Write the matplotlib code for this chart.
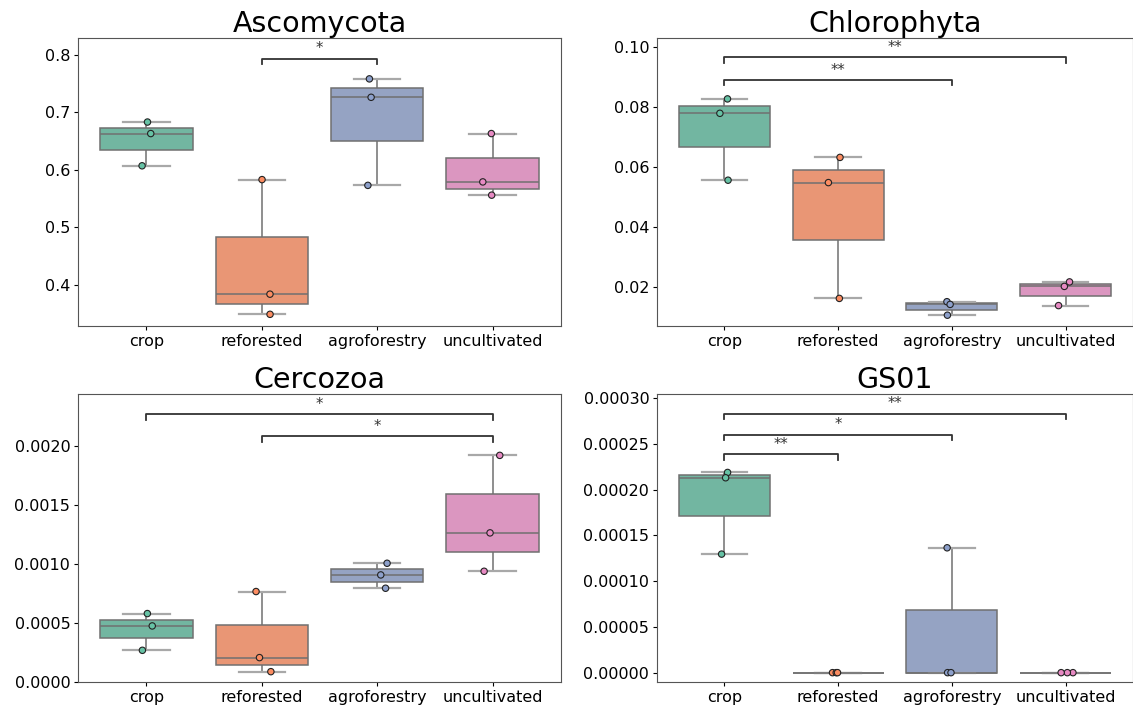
import matplotlib
matplotlib.use("Agg")
import matplotlib.pyplot as plt
import numpy as np
import pandas as pd
import seaborn as sns
from matplotlib.ticker import FormatStrFormatter

## Data (3 samples per land use)
groups = ["crop", "reforested", "agroforestry", "uncultivated"]

ascomycota = {
    "crop": [0.683, 0.663, 0.607],
    "reforested": [0.583, 0.384, 0.349],
    "agroforestry": [0.758, 0.726, 0.573],
    "uncultivated": [0.663, 0.579, 0.556],
}
chlorophyta = {
    "crop": [0.0827, 0.0779, 0.0556],
    "reforested": [0.0632, 0.0548, 0.0162],
    "agroforestry": [0.0151, 0.0142, 0.0106],
    "uncultivated": [0.0217, 0.0202, 0.0138],
}
cercozoa = {
    "crop": [0.000581, 0.000476, 0.000269],
    "reforested": [0.000768, 0.000207, 0.0000878],
    "agroforestry": [0.001008, 0.000909, 0.000796],
    "uncultivated": [0.001924, 0.001266, 0.000940],
}
gs01 = {
    "crop": [0.0002187, 0.0002129, 0.0001295],
    "reforested": [0.0, 0.0, 0.0],
    "agroforestry": [0.0001364, 0.0, 0.0],
    "uncultivated": [0.0, 0.0, 0.0],
}

# significance brackets: (group a, group b, height, label)
asc_sig = [("reforested", "agroforestry", 0.7925, "*")]
chl_sig = [("crop", "agroforestry", 0.0889, "**"),
           ("crop", "uncultivated", 0.0965, "**")]
cer_sig = [("reforested", "uncultivated", 0.002085, "*"),
           ("crop", "uncultivated", 0.002272, "*")]
gs_sig = [("crop", "reforested", 0.0002385, "**"),
          ("crop", "agroforestry", 0.0002597, "*"),
          ("crop", "uncultivated", 0.000283, "**")]

panels = [
    ("Ascomycota", ascomycota, asc_sig, (0.3287, 0.829), np.arange(0.4, 0.81, 0.1), "%.1f"),
    ("Chlorophyta", chlorophyta, chl_sig, (0.0070, 0.1030), np.arange(0.02, 0.101, 0.02), "%.2f"),
    ("Cercozoa", cercozoa, cer_sig, (0.0, 0.002445), np.arange(0.0, 0.00201, 0.0005), "%.4f"),
    ("GS01", gs01, gs_sig, (-0.0000102, 0.0003044), np.arange(0.0, 0.000301, 0.00005), "%.5f"),
]

W, H = 1133, 707
boxes = [(78, 38, 561, 326), (657, 38, 1133, 326),
         (78, 394, 561, 682), (657, 394, 1133, 682)]

fig = plt.figure(figsize=(W / 100, H / 100), dpi=100)
np.random.seed(3)

for (title, d, sig, ylim, ticks, fmt), (x0, y0, x1, y1) in zip(panels, boxes):
    ax = fig.add_axes([x0 / W, 1 - y1 / H, (x1 - x0) / W, (y1 - y0) / H])
    df = pd.DataFrame([(g, v) for g in groups for v in d[g]], columns=["group", "value"])

    sns.boxplot(data=df, x="group", y="value", hue="group", order=groups,
                hue_order=groups, palette="Set2", legend=False, ax=ax,
                showfliers=False, linewidth=1.1, linecolor="#707070",
                capprops={"color": "#a8a8a8", "linewidth": 1.6})
    sns.stripplot(data=df, x="group", y="value", hue="group", order=groups,
                  hue_order=groups, palette="Set2", legend=False, ax=ax,
                  size=4.6, linewidth=0.8, edgecolor="#222222", jitter=0.09)

    for a, b, h, lab in sig:
        xa, xb = groups.index(a), groups.index(b)
        dh = (ylim[1] - ylim[0]) * 0.018
        ax.plot([xa, xa, xb, xb], [h - dh, h, h, h - dh], color="#333333", lw=1.3)
        ax.annotate(lab, ((xa + xb) / 2, h), xytext=(0, 2), textcoords="offset points",
                    ha="center", va="bottom", fontsize=10.5, color="#333333")

    ax.set_xlim(-0.593, 3.593)
    ax.set_ylim(*ylim)
    ax.set_yticks(ticks)
    ax.yaxis.set_major_formatter(FormatStrFormatter(fmt))
    ax.set_xlabel("")
    ax.set_ylabel("")
    ax.set_title(title, fontsize=20.5, pad=4)
    ax.tick_params(labelsize=11.5, length=3, pad=2.5)
    for s in ax.spines.values():
        s.set_color("#555555")

fig.savefig("out.png", dpi=100)
